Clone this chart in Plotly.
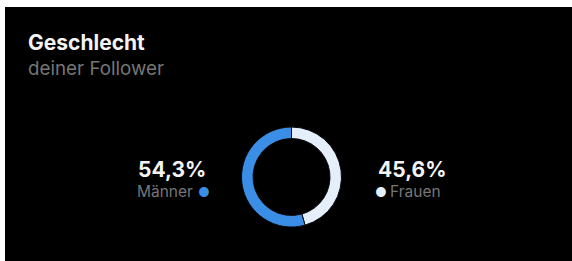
import plotly.graph_objects as go

# ---- data ----
labels = ["Männer", "Frauen"]
values = [54.3, 45.6]
colors = ["#3a8ee6", "#e4effb"]
title_text = "Geschlecht"
subtitle_text = "deiner Follower"

W, H = 572, 261
FONT = "Inter, Roboto, 'Noto Sans', sans-serif"


def px(x):
    return x / W


def py(y):
    return 1 - y / H


def fmt(v):
    return f"{v:.1f}".replace(".", ",") + "%"


cx, cy, r = 291.5, 177, 50

# Frauen clockwise from 12 o'clock (right side), Männer fills the left side
fig = go.Figure()
fig.add_trace(go.Pie(
    labels=labels[::-1],
    values=values[::-1],
    marker=dict(colors=colors[::-1], line=dict(color="#0a0a0a", width=1)),
    hole=0.77,
    sort=False,
    direction="clockwise",
    rotation=0,
    textinfo="none",
    hoverinfo="none",
    showlegend=False,
    domain=dict(x=[px(cx - r), px(cx + r)], y=[py(cy + r), py(cy - r)]),
))

GRAY = "#767676"
ann = []
ann.append(dict(x=px(26), y=py(42), text=f"<b>{title_text}</b>", xanchor="left", yanchor="middle",
                font=dict(size=21, color="#f4f4f4", family=FONT)))
ann.append(dict(x=px(26), y=py(68), text=subtitle_text, xanchor="left", yanchor="middle",
                font=dict(size=18.8, color=GRAY, family=FONT)))

# left (Männer)
ann.append(dict(x=px(208), y=py(170), text=f"<b>{fmt(values[0])}</b>", xanchor="right", yanchor="middle",
                font=dict(size=21, color="#f4f4f4", family=FONT)))
ann.append(dict(x=px(195), y=py(191), text=labels[0], xanchor="right", yanchor="middle",
                font=dict(size=15.5, color=GRAY, family=FONT)))
ann.append(dict(x=px(204), y=py(191.5), text="●", xanchor="center", yanchor="middle",
                font=dict(size=13, color=colors[0], family=FONT)))
# right (Frauen)
ann.append(dict(x=px(376), y=py(170), text=f"<b>{fmt(values[1])}</b>", xanchor="left", yanchor="middle",
                font=dict(size=21, color="#f4f4f4", family=FONT)))
ann.append(dict(x=px(381), y=py(191.5), text="●", xanchor="center", yanchor="middle",
                font=dict(size=13, color=colors[1], family=FONT)))
ann.append(dict(x=px(388), y=py(191), text=labels[1], xanchor="left", yanchor="middle",
                font=dict(size=15.5, color=GRAY, family=FONT)))

for a in ann:
    a.update(xref="paper", yref="paper", showarrow=False)

shapes = [
    dict(type="rect", xref="paper", yref="paper", x0=0, x1=1, y0=py(7), y1=1,
         fillcolor="white", line=dict(width=0), layer="above"),
    dict(type="rect", xref="paper", yref="paper", x0=0, x1=px(5), y0=0, y1=1,
         fillcolor="white", line=dict(width=0), layer="above"),
]

fig.update_layout(
    autosize=True,
    margin=dict(l=0, r=0, t=0, b=0),
    paper_bgcolor="black",
    plot_bgcolor="black",
    annotations=ann,
    shapes=shapes,
)

fig.write_html("out.html", config={"displayModeBar": False, "responsive": True},
               default_width="100vw", default_height="100vh",
               post_script="document.body.style.margin='0';document.body.style.overflow='hidden';"
                           "document.body.style.background='black';"
                           "document.documentElement.style.background='black';"
                           "window.dispatchEvent(new Event('resize'));")
